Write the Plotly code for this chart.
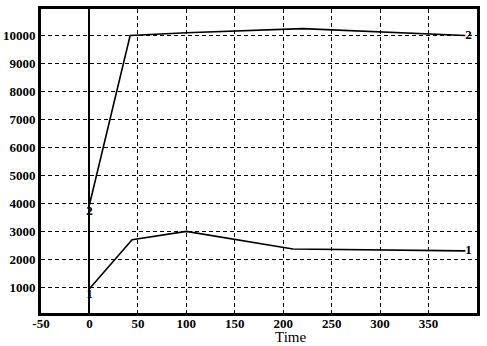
import plotly.graph_objects as go

time1 = [0, 44, 100, 210, 388]
val1 = [950, 2700, 3000, 2370, 2300]
time2 = [0, 42, 100, 220, 388]
val2 = [3950, 10000, 10100, 10250, 10000]
label1 = "1"
label2 = "2"
xticks = [-50, 0, 50, 100, 150, 200, 250, 300, 350]
yticks = [1000, 2000, 3000, 4000, 5000, 6000, 7000, 8000, 9000, 10000]

font = dict(family="Liberation Serif", size=13, color="black", weight="bold")

def labels(n, lab):
    t = [""] * n
    t[0] = lab
    t[-1] = lab
    return t

def positions(n):
    p = ["middle right"] * n
    p[0] = "bottom center"
    return p

fig = go.Figure()
for xs, ys, lab in [(time1, val1, label1), (time2, val2, label2)]:
    fig.add_trace(go.Scatter(
        x=xs, y=ys, mode="lines+text",
        line=dict(color="black", width=1.6),
        text=labels(len(xs), lab), textposition=positions(len(xs)),
        textfont=font, showlegend=False, cliponaxis=False))

grid = dict(showgrid=True, gridcolor="black", gridwidth=1, griddash="4px,3px",
            showline=True, linecolor="black", linewidth=3, mirror=True,
            ticks="", tickfont=font, automargin=False)

fig.update_xaxes(range=[-50, 400], tickvals=xticks,
                 ticktext=[str(v) for v in xticks], zeroline=True,
                 zerolinecolor="black", zerolinewidth=2, ticklabelstandoff=-4,
                 **grid)
fig.update_yaxes(range=[80, 10950], tickvals=yticks,
                 ticktext=[str(v) for v in yticks], zeroline=False,
                 ticklabelstandoff=0, **grid)

fig.add_annotation(text="Time", x=208, xref="x", y=-0.079, yref="paper",
                   yanchor="middle", showarrow=False,
                   font=dict(family="Liberation Serif", size=15, color="black"))

fig.update_layout(width=487, height=346,
                  margin=dict(l=41, r=10, t=9, b=33, autoexpand=False),
                  plot_bgcolor="white", paper_bgcolor="white")

fig.write_html("out.html", config={"displayModeBar": False},
               post_script="document.body.style.margin='0';document.body.style.overflow='hidden';")
